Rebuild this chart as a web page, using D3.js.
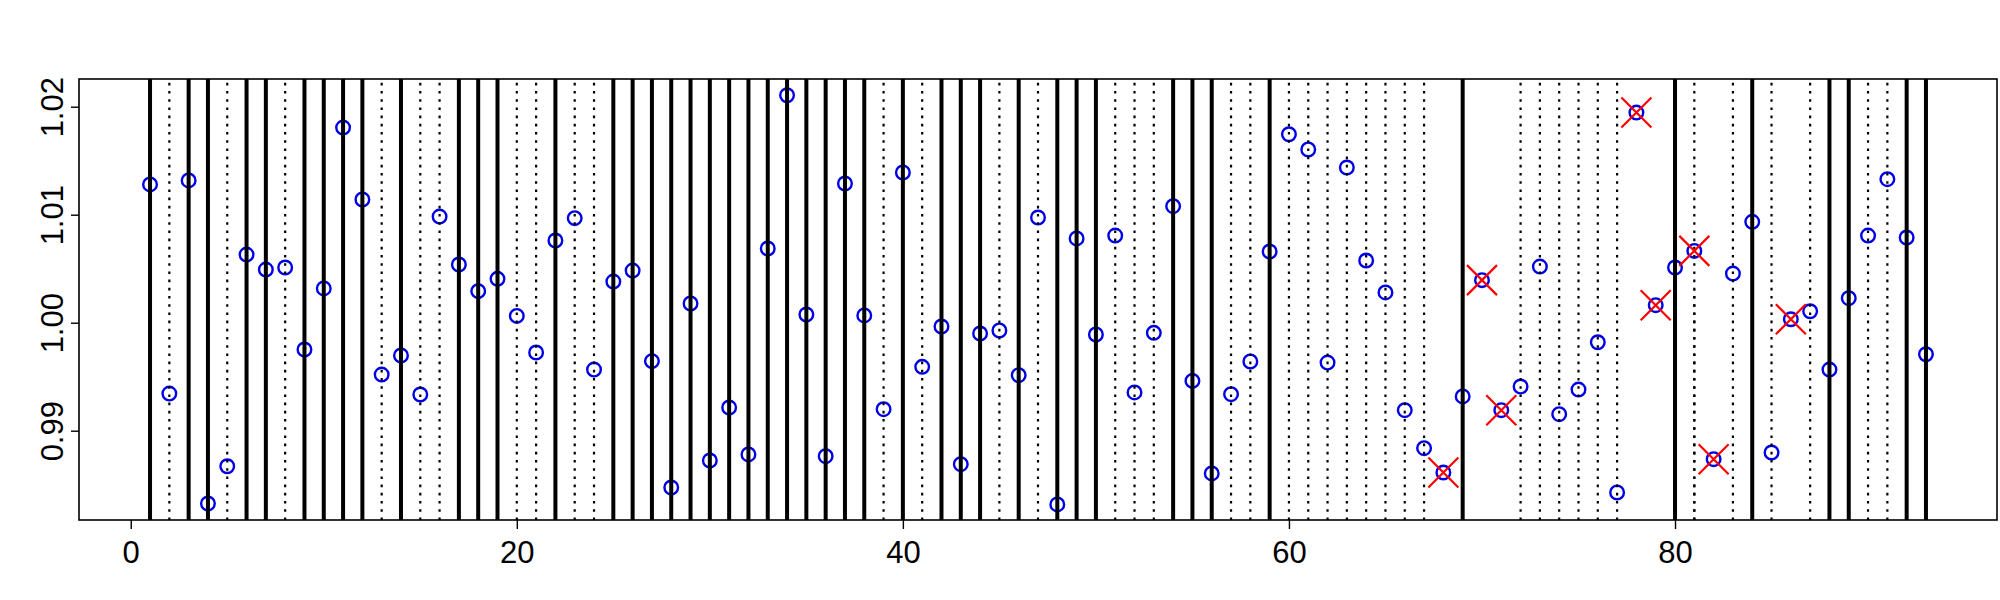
<!DOCTYPE html>
<html>
<head>
<meta charset="utf-8">
<script src="https://cdn.jsdelivr.net/npm/d3@7"></script>
<style>
  html, body { margin: 0; padding: 0; background: #fff; }
  svg { display: block; }
</style>
</head>
<body>
<svg id="chart" width="2000" height="600"></svg>
<script>
// ---- data ----
const values = [
  1.0128, 0.99344, 1.01317, 0.98326, 0.98671, 1.00631, 1.00492, 1.00511, 0.99752, 1.00317,
  1.01807, 1.01141, 0.9952, 0.99696, 0.99335, 1.00983, 1.00539, 1.00292, 1.00406, 1.00063,
  0.99724, 1.00761, 1.00968, 0.99566, 1.00381, 1.00483, 0.99644, 0.98474, 1.00178, 0.98724,
  0.99215, 0.9878, 1.00687, 1.02106, 1.00076, 0.98764, 1.01289, 1.00067, 0.99199, 1.01391,
  0.99591, 0.99965, 0.9869, 0.999, 0.99928, 0.99514, 1.00974, 0.98317, 1.0078, 0.99891,
  1.00807, 0.99354, 0.99906, 1.01079, 0.99461, 0.98604, 0.99338, 0.99641, 1.00659, 1.01745,
  1.01604, 0.99631, 1.01437, 1.00576, 1.0028, 0.9919, 0.98838, 0.98613, 0.99317, 1.00394,
  0.9919, 0.99409, 1.0052, 0.99153, 0.99381, 0.99819, 0.98428, 1.01946, 1.00162, 1.00511,
  1.00665, 0.98736, 1.00455, 1.00934, 0.98798, 1.00032, 1.00106, 0.99566, 1.00227, 1.00807,
  1.01329, 1.00789, 0.99708
];
// vertical line type at each index: s = solid, d = dotted, n = none
const lineTypes = [
  "s","d","s","s","d","s","s","d","s","s",
  "s","s","d","s","d","d","s","s","s","d",
  "d","s","d","d","s","s","s","s","s","s",
  "s","s","s","s","s","s","s","s","d","s",
  "d","s","s","s","d","s","d","s","s","s",
  "d","d","d","s","s","s","d","d","s","d",
  "d","d","d","d","d","d","d","n","s","n",
  "n","d","d","d","d","d","d","n","n","s",
  "d","n","d","s","d","n","d","s","s","d",
  "d","s","s"
];
// partial dotted line (index, top value)
const partialLines = [{ idx: 81, top: 1.0031 }];
const flagged = [68, 70, 71, 78, 79, 81, 82, 86];
const xTicks = [0, 20, 40, 60, 80];
const yTicks = [0.99, 1.00, 1.01, 1.02];

// ---- layout ----
const L = 79, R = 1997, T = 79, B = 520;
const x = d3.scaleLinear().domain([-2.68, 96.68]).range([L, R]);
const y = d3.scaleLinear().domain([0.981731, 1.022565]).range([B, T]);

const svg = d3.select("#chart");
const pts = values.map((v, i) => ({ idx: i + 1, v, lt: lineTypes[i] }));

// points (drawn first)
svg.append("g").selectAll("circle").data(pts).join("circle")
  .attr("cx", d => x(d.idx)).attr("cy", d => y(d.v)).attr("r", 6.8)
  .attr("fill", "none").attr("stroke", "#0000e6").attr("stroke-width", 2.4);

// vertical lines
const gl = svg.append("g");
gl.selectAll("line.solid").data(pts.filter(d => d.lt === "s")).join("line")
  .attr("x1", d => x(d.idx)).attr("x2", d => x(d.idx))
  .attr("y1", y.range()[0]).attr("y2", y.range()[1])
  .attr("stroke", "#000").attr("stroke-width", 4);
gl.selectAll("line.dot").data(pts.filter(d => d.lt === "d")).join("line")
  .attr("x1", d => x(d.idx)).attr("x2", d => x(d.idx))
  .attr("y1", y.range()[0]).attr("y2", y.range()[1])
  .attr("stroke", "#000").attr("stroke-width", 2.2).attr("stroke-dasharray", "2.6,5.6");
gl.selectAll("line.part").data(partialLines).join("line")
  .attr("x1", d => x(d.idx)).attr("x2", d => x(d.idx))
  .attr("y1", y.range()[0]).attr("y2", d => y(d.top))
  .attr("stroke", "#000").attr("stroke-width", 2.2).attr("stroke-dasharray", "2.6,5.6");

// red X markers
const gx = svg.append("g");
const fl = pts.filter(d => flagged.includes(d.idx));
const s = 15;
gx.selectAll("path").data(fl).join("path")
  .attr("d", d => {
    const cx = x(d.idx), cy = y(d.v);
    return `M${cx - s},${cy - s}L${cx + s},${cy + s}M${cx - s},${cy + s}L${cx + s},${cy - s}`;
  })
  .attr("fill", "none").attr("stroke", "#ff0000").attr("stroke-width", 2.2);

// box
svg.append("rect").attr("x", L).attr("y", T).attr("width", R - L).attr("height", B - T)
  .attr("fill", "none").attr("stroke", "#000").attr("stroke-width", 1.6);

// axes
const font = "'Liberation Sans', Arial, sans-serif";
const xa = svg.append("g").attr("transform", `translate(0,${B})`)
  .call(d3.axisBottom(x).tickValues(xTicks).tickFormat(d3.format("d")).tickSize(9).tickPadding(12));
xa.select(".domain").remove();
xa.selectAll("line").attr("stroke-width", 1.4);
xa.selectAll("text").attr("font-family", font).attr("font-size", 31).attr("fill", "#000");

const ya = svg.append("g").attr("transform", `translate(${L},0)`)
  .call(d3.axisLeft(y).tickValues(yTicks).tickFormat(d3.format(".2f")).tickSize(8));
ya.select(".domain").remove();
ya.selectAll("line").attr("stroke-width", 1.4);
ya.selectAll("text")
  .attr("x", null).attr("dy", null).attr("y", null)
  .attr("text-anchor", "middle")
  .attr("transform", "translate(-16.5,0) rotate(-90)")
  .attr("font-family", font).attr("font-size", 31).attr("fill", "#000");
</script>
</body>
</html>
